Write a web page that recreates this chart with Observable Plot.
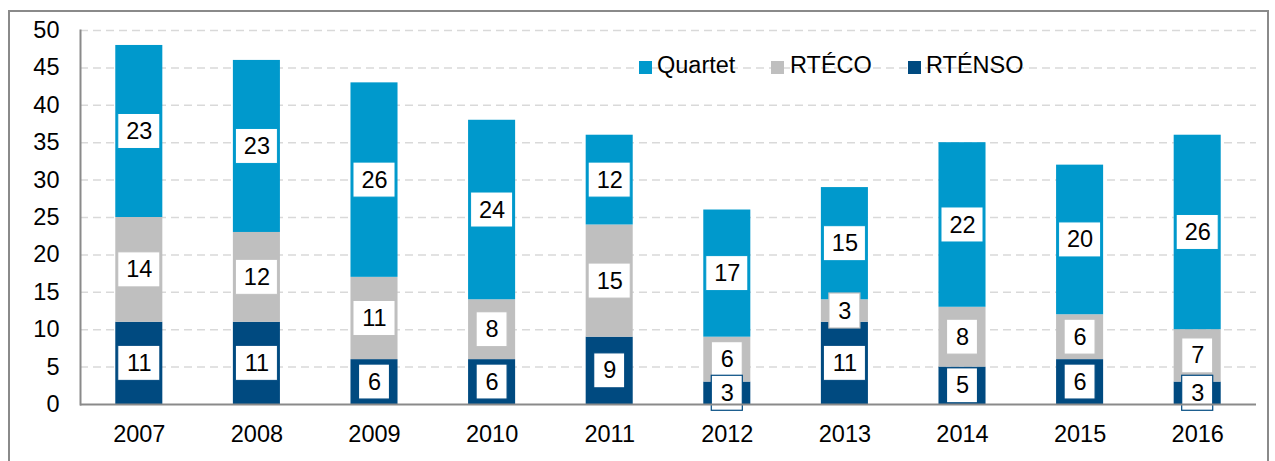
<!DOCTYPE html>
<html>
<head>
<meta charset="utf-8">
<script src="https://cdn.jsdelivr.net/npm/d3@7"></script>
<script src="https://cdn.jsdelivr.net/npm/@observablehq/plot@0.6"></script>
<style>
  html, body { margin: 0; padding: 0; background: #fff; }
  #wrap { position: relative; width: 1275px; height: 461px; overflow: hidden; font-family: "Liberation Sans", Arial, sans-serif; }
  #frame { position: absolute; left: 8px; top: 10px; width: 1261px; height: 480px; box-sizing: border-box; border: 2px solid #8a8a8a; pointer-events: none; }
  .leg { position: absolute; top: 54px; font-size: 23.5px; line-height: 23px; color: #000; white-space: nowrap; }
  .sw { position: absolute; top: 61px; width: 13px; height: 13px; }
  svg { position: absolute; left: 0; top: 0; }
</style>
</head>
<body>
<div id="wrap"></div>
<script>
const years = [2007, 2008, 2009, 2010, 2011, 2012, 2013, 2014, 2015, 2016];
const quartet = [23, 23, 26, 24, 12, 17, 15, 22, 20, 26];
const rteco   = [14, 12, 11, 8, 15, 6, 3, 8, 6, 7];
const rtenso  = [11, 11, 6, 6, 9, 3, 11, 5, 6, 3];
const seriesNames = ["Quartet", "RTÉCO", "RTÉNSO"];
const seriesColors = ["#0099cc", "#bfbfbf", "#004a80"];
const yTicks = [0, 5, 10, 15, 20, 25, 30, 35, 40, 45, 50];

const W = 1275, H = 461, mT = 30, mB = 57, mL = 80, mR = 19;
const unitsPerPx = 50 / (H - mT - mB);
const boxHalf = 17.5 * unitsPerPx;

// stacked rows, bottom to top: RTÉNSO, RTÉCO, Quartet
const rows = [];
years.forEach((yr, i) => {
  let base = 0;
  [["RTÉNSO", rtenso], ["RTÉCO", rteco], ["Quartet", quartet]].forEach(([s, arr]) => {
    const v = arr[i];
    rows.push({year: String(yr), series: s, value: v, lo: base, hi: base + v, mid: base + v / 2});
    base += v;
  });
});
const boxOrder = {"Quartet": 0, "RTÉCO": 1, "RTÉNSO": 2};
const boxRows = rows.slice().sort((a, b) => boxOrder[a.series] - boxOrder[b.series]);

const chart = Plot.plot({
  width: W, height: H,
  marginTop: mT, marginBottom: mB, marginLeft: mL, marginRight: mR,
  style: {fontFamily: "'Liberation Sans', Arial, sans-serif", background: "transparent", color: "#000"},
  x: {domain: years.map(String), paddingInner: 0.6, paddingOuter: 0.3, round: false, label: null},
  y: {domain: [0, 50], label: null},
  color: {domain: seriesNames, range: seriesColors},
  marks: [
    Plot.gridY(yTicks.filter(t => t > 0), {stroke: "#d9d9d9", strokeOpacity: 1, strokeWidth: 1.5, strokeDasharray: "8,5"}),
    Plot.barY(rows, {x: "year", y1: "lo", y2: "hi", fill: "series"}),
    Plot.barY(boxRows.filter(d => d.value >= 10), {x: "year", y1: d => d.mid - boxHalf, y2: d => d.mid + boxHalf, fill: "white", stroke: "series", strokeWidth: 1, insetLeft: 2.5, insetRight: 2.5}),
    Plot.barY(boxRows.filter(d => d.value < 10), {x: "year", y1: d => d.mid - boxHalf, y2: d => d.mid + boxHalf, fill: "white", stroke: "series", strokeWidth: 1.2, insetLeft: 8, insetRight: 8}),
    Plot.text(rows, {x: "year", y: "mid", text: d => String(d.value), fontSize: 23.5, fill: "#000"}),
    Plot.ruleY([0], {stroke: "#8a8a8a", strokeWidth: 2}),
    Plot.frame({anchor: "left", stroke: "#8a8a8a", strokeWidth: 2}),
    Plot.axisY(yTicks, {tickSize: 0, tickPadding: 21, fontSize: 23.5, fill: "#000", label: null}),
    Plot.axisX({tickSize: 0, tickPadding: 21, fontSize: 23.5, fill: "#000", label: null})
  ]
});

const wrap = document.getElementById("wrap");
wrap.appendChild(chart);

// legend
const legendX = {"Quartet": [639, 657], "RTÉCO": [771, 790], "RTÉNSO": [908, 926]};
seriesNames.forEach((s, i) => {
  const sw = document.createElement("div");
  sw.className = "sw";
  sw.style.left = legendX[s][0] + "px";
  sw.style.background = seriesColors[i];
  wrap.appendChild(sw);
  const t = document.createElement("div");
  t.className = "leg";
  t.style.left = legendX[s][1] + "px";
  t.textContent = s;
  wrap.appendChild(t);
});
const fr = document.createElement("div");
fr.id = "frame";
wrap.appendChild(fr);
</script>
</body>
</html>
